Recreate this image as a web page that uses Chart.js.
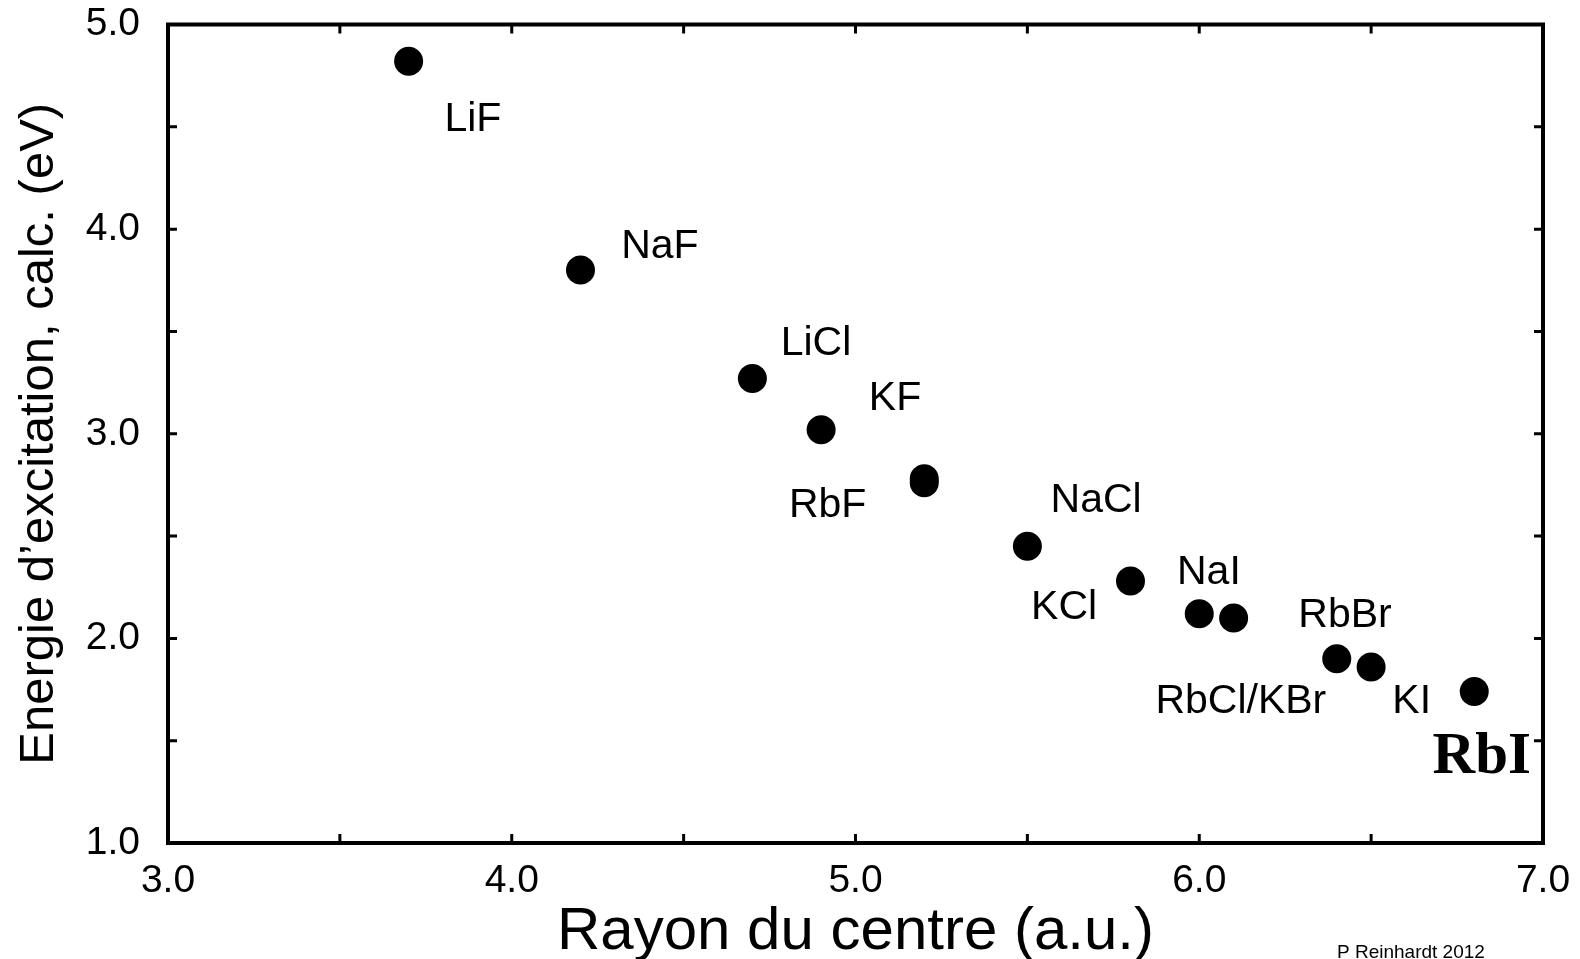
<!DOCTYPE html>
<html>
<head>
<meta charset="utf-8">
<script src="https://cdn.jsdelivr.net/npm/chart.js@4.4.1/dist/chart.umd.min.js"></script>
<style>
  html, body { margin: 0; padding: 0; background: #ffffff; overflow: hidden; }
  #wrap { width: 1580px; height: 959px; position: relative; }
</style>
</head>
<body>
<div id="wrap"><canvas id="c"></canvas></div>
<script>
// ---- data ----
const xValues = [3.70, 4.20, 4.70, 4.90, 5.20, 5.20, 5.50, 5.80, 6.00, 6.10, 6.40, 6.50, 6.80];
const yValues = [4.82, 3.80, 3.27, 3.02, 2.78, 2.76, 2.45, 2.28, 2.12, 2.10, 1.90, 1.86, 1.74];

// annotation texts and their anchors (data units)
const labelTexts = ['LiF', 'NaF', 'LiCl', 'KF', 'RbF', 'NaCl', 'KCl', 'NaI', 'RbBr', 'RbCl/KBr', 'KI'];
const labelX     = [3.887, 4.431, 4.885, 5.115, 4.919, 5.700, 5.607, 6.028, 6.424, 6.121, 6.618];
const labelY     = [4.536, 3.912, 3.440, 3.172, 2.649, 2.675, 2.148, 2.320, 2.113, 1.692, 1.692];
const boldLabelText = 'RbI';
const boldLabelX = 6.822;
const boldLabelY = 1.415;

const xMin = 3.0, xMax = 7.0, xStep = 0.5;
const yMin = 1.0, yMax = 5.0, yStep = 0.5;
const xTitle = 'Rayon du centre (a.u.)';
const yTitle = 'Energie d\u2019excitation, calc. (eV)';
const creditText = 'P Reinhardt 2012';

const SANS = "'Liberation Sans', Arial, Helvetica, sans-serif";
const SERIF = "'Liberation Serif', 'Times New Roman', Times, serif";

function isWhole(v) { return Math.abs(v - Math.round(v)) < 1e-9; }

const framePlugin = {
  id: 'frame',
  afterDatasetsDraw(chart) {
    const ctx = chart.ctx;
    const a = chart.chartArea;
    const xs = chart.scales.x, ys = chart.scales.y;
    const tl = 9;
    ctx.save();
    ctx.strokeStyle = '#000';
    ctx.lineCap = 'butt';
    ctx.lineJoin = 'miter';
    // inward ticks on all four sides
    ctx.lineWidth = 3;
    ctx.beginPath();
    xs.ticks.forEach(t => {
      const px = xs.getPixelForValue(t.value);
      if (Math.abs(px - a.left) < 2 || Math.abs(px - a.right) < 2) return;
      ctx.moveTo(px, a.bottom); ctx.lineTo(px, a.bottom - tl);
      ctx.moveTo(px, a.top); ctx.lineTo(px, a.top + tl);
    });
    ys.ticks.forEach(t => {
      const py = ys.getPixelForValue(t.value);
      if (Math.abs(py - a.top) < 2 || Math.abs(py - a.bottom) < 2) return;
      ctx.moveTo(a.left, py); ctx.lineTo(a.left + tl, py);
      ctx.moveTo(a.right, py); ctx.lineTo(a.right - tl, py);
    });
    ctx.stroke();
    // frame
    ctx.lineWidth = 4;
    ctx.strokeRect(a.left, a.top, a.right - a.left, a.bottom - a.top);

    // point annotations
    ctx.fillStyle = '#000';
    ctx.textAlign = 'center';
    ctx.textBaseline = 'middle';
    ctx.font = '41px ' + SANS;
    labelTexts.forEach((txt, i) => {
      ctx.fillText(txt, xs.getPixelForValue(labelX[i]), ys.getPixelForValue(labelY[i]));
    });
    ctx.font = 'bold 59px ' + SERIF;
    ctx.fillText(boldLabelText, xs.getPixelForValue(boldLabelX), ys.getPixelForValue(boldLabelY));

    // credit
    ctx.font = '19px ' + SANS;
    ctx.textAlign = 'left';
    ctx.textBaseline = 'alphabetic';
    ctx.fillText(creditText, 1337, 958);
    ctx.restore();
  }
};

new Chart(document.getElementById('c'), {
  type: 'scatter',
  data: {
    datasets: [{
      data: xValues.map((x, i) => ({ x: x, y: yValues[i] })),
      pointRadius: 14.5,
      pointHoverRadius: 14.5,
      backgroundColor: '#000',
      borderWidth: 0,
      showLine: false
    }]
  },
  options: {
    responsive: true,
    maintainAspectRatio: false,
    animation: false,
    events: [],
    layout: { padding: { left: 0, top: 24.5, right: 37, bottom: 0 } },
    plugins: { legend: { display: false }, tooltip: { enabled: false } },
    scales: {
      x: {
        type: 'linear',
        min: xMin, max: xMax,
        afterFit: s => { s.height = 116; s.paddingLeft = 0; s.paddingRight = 0; },
        grid: { display: false, drawTicks: false },
        border: { display: false },
        ticks: {
          stepSize: xStep,
          autoSkip: false,
          maxRotation: 0,
          padding: 15,
          color: '#000',
          font: { family: SANS, size: 39 },
          callback: v => isWhole(v) ? Number(v).toFixed(1) : ''
        },
        title: {
          display: true,
          text: xTitle,
          color: '#000',
          font: { family: SANS, size: 60, lineHeight: 0.9 },
          padding: { top: 0, bottom: 0 }
        }
      },
      y: {
        type: 'linear',
        min: yMin, max: yMax,
        afterFit: s => { s.width = 168; s.paddingTop = 0; s.paddingBottom = 0; },
        grid: { display: false, drawTicks: false },
        border: { display: false },
        ticks: {
          stepSize: yStep,
          autoSkip: false,
          padding: 28,
          color: '#000',
          font: { family: SANS, size: 39 },
          callback: v => isWhole(v) ? Number(v).toFixed(1) : ''
        },
        title: {
          display: true,
          text: yTitle,
          color: '#000',
          font: { family: SANS, size: 49, lineHeight: 1.2 },
          padding: { top: 10, bottom: 0 }
        }
      }
    }
  },
  plugins: [framePlugin]
});
</script>
</body>
</html>
